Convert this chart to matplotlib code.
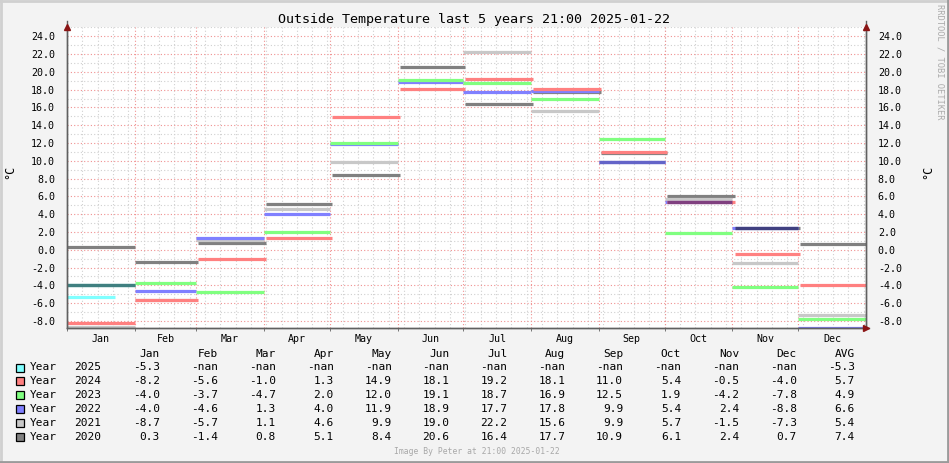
import numpy as np
import pandas as pd
import matplotlib
matplotlib.use('Agg')
import matplotlib.pyplot as plt
from matplotlib.lines import Line2D
from matplotlib.patches import Rectangle

# data
months = ['Jan', 'Feb', 'Mar', 'Apr', 'May', 'Jun', 'Jul', 'Aug', 'Sep', 'Oct', 'Nov', 'Dec']
years = [2025, 2024, 2023, 2022, 2021, 2020]
nan = np.nan
t2025 = [-5.3, nan, nan, nan, nan, nan, nan, nan, nan, nan, nan, nan]
t2024 = [-8.2, -5.6, -1.0, 1.3, 14.9, 18.1, 19.2, 18.1, 11.0, 5.4, -0.5, -4.0]
t2023 = [-4.0, -3.7, -4.7, 2.0, 12.0, 19.1, 18.7, 16.9, 12.5, 1.9, -4.2, -7.8]
t2022 = [-4.0, -4.6, 1.3, 4.0, 11.9, 18.9, 17.7, 17.8, 9.9, 5.4, 2.4, -8.8]
t2021 = [-8.7, -5.7, 1.1, 4.6, 9.9, 19.0, 22.2, 15.6, 9.9, 5.7, -1.5, -7.3]
t2020 = [0.3, -1.4, 0.8, 5.1, 8.4, 20.6, 16.4, 17.7, 10.9, 6.1, 2.4, 0.7]
averages = [-5.3, 5.7, 4.9, 6.6, 5.4, 7.4]
series = [t2025, t2024, t2023, t2022, t2021, t2020]
colors = ['#80FFFF', '#FF8080', '#80FF80', '#8080FF', '#C8C8C8', '#808080']
now = pd.Timestamp('2025-01-22 21:00')

mono = 'DejaVu Sans Mono'
W, H = 949, 463
fig = plt.figure(figsize=(W / 100, H / 100), dpi=100, facecolor='#F3F3F3')
ax = fig.add_axes([67 / W, (H - 328) / H, 799 / W, 301 / H])
ax.set_facecolor('white')
ax.set_xlim(0, 365)
ax.set_ylim(-8.8, 25.05)


def month_span(year, m):
    start = pd.Timestamp(year, m + 1, 1)
    s = start.dayofyear - 1
    e = s + start.days_in_month
    if year == now.year:
        e = min(e, now.dayofyear - 1 + now.hour / 24)
    return s, e


# grid
ref = 2025
bounds = [month_span(ref, m)[0] for m in range(12)]
for d in np.arange(7, 365, 7):
    ax.axvline(d, color='#D0D0D0', lw=0.8, ls=(0, (1, 2)), zorder=0)
for d in bounds[1:]:
    ax.axvline(d, color='#F09090', lw=0.8, ls=(0, (1, 2)), zorder=0.5)
for v in range(-8, 26):
    if v % 2 == 0:
        ax.axhline(v, color='#F09090', lw=0.8, ls=(0, (1, 2)), zorder=0.5)
    else:
        ax.axhline(v, color='#D0D0D0', lw=0.8, ls=(0, (1, 2)), zorder=0)


def rgb(c):
    return np.array(matplotlib.colors.to_rgb(c))


# lines, drawn oldest first
for yr, vals, col in reversed(list(zip(years, series, colors))):
    for m, v in enumerate(vals):
        if np.isnan(v):
            continue
        s, e = month_span(yr, m)
        ax.plot([s, e], [v, v], color=col, lw=2.3, solid_capstyle='butt', zorder=2)

# lines with the same value look multiplied where they overlap
for m in range(12):
    for i in range(len(years)):
        for j in range(i + 1, len(years)):
            a, b = series[i][m], series[j][m]
            if np.isnan(a) or np.isnan(b) or abs(a - b) > 0.05:
                continue
            s1, e1 = month_span(years[i], m)
            s2, e2 = month_span(years[j], m)
            c = rgb(colors[i]) * rgb(colors[j])
            ax.plot([max(s1, s2), min(e1, e2)], [a, a], color=c, lw=2.3,
                    solid_capstyle='butt', zorder=3)

# axes styling
ax.spines['top'].set_visible(False)
for side in ['left', 'right', 'bottom']:
    ax.spines[side].set_color('#606060')
    ax.spines[side].set_linewidth(1)
ax.set_yticks(np.arange(-8, 25, 2))
ax.set_yticklabels(['%.1f' % v for v in np.arange(-8, 25, 2)], fontsize=7.2, family=mono)
ax.tick_params(axis='y', left=False, right=False, labelright=True, pad=5)
mids = [(bounds[i] + (bounds[i + 1] if i < 11 else 365)) / 2 for i in range(12)]
ax.set_xticks(mids)
ax.set_xticklabels(months, fontsize=7.2, family=mono)
ax.set_xticks(bounds, minor=True)
ax.tick_params(axis='x', which='major', length=0, pad=4)
ax.tick_params(axis='x', which='minor', length=2, color='#606060')

arrow = '#8B1515'
ax.plot([0], [1.0], marker='^', ms=4.5, color=arrow, transform=ax.transAxes, clip_on=False, zorder=5)
ax.plot([1], [1.0], marker='^', ms=4.5, color=arrow, transform=ax.transAxes, clip_on=False, zorder=5)
ax.plot([1.0], [0], marker='>', ms=4.5, color=arrow, transform=ax.transAxes, clip_on=False, zorder=5)
ax.plot([0, 1.004], [0, 0], color='#606060', lw=1, transform=ax.transAxes, clip_on=False, zorder=4)
ax.plot([0, 0], [0, 1.02], color='#606060', lw=1, transform=ax.transAxes, clip_on=False, zorder=4)
ax.plot([1, 1], [0, 1.02], color='#606060', lw=1, transform=ax.transAxes, clip_on=False, zorder=4)

# texts
fig.text(474 / W, 1 - 19 / H, 'Outside Temperature last 5 years 21:00 2025-01-22',
         ha='center', va='center', fontsize=9.6, family=mono)
fig.text(10 / W, 1 - 172 / H, '°C', rotation=90, ha='center', va='center', fontsize=8.5, family=mono)
fig.text(928 / W, 1 - 172 / H, '°C', rotation=90, ha='center', va='center', fontsize=8.5, family=mono)
fig.text(940 / W, 1 - 4 / H, 'RRDTOOL / TOBI OETIKER', rotation=270, ha='center', va='top',
         fontsize=6.3, family=mono, color='#ABABAB')
fig.text(477 / W, 1 - 452 / H, 'Image By Peter at 21:00 2025-01-22', ha='center', va='center',
         fontsize=5.8, family=mono, color='#A8A8A8')

# legend table
col_right = [160 + 57.9 * i for i in range(13)]
header_y = 354
for i, lab in enumerate(months + ['AVG']):
    fig.text(col_right[i] / W, 1 - header_y / H, lab, ha='right', va='center', fontsize=8, family=mono)
for r, (yr, vals, col, avg) in enumerate(zip(years, series, colors, averages)):
    y = 367.5 + 13.9 * r
    fig.patches.append(Rectangle((16 / W, 1 - (y + 4) / H), 8 / W, 8 / H, transform=fig.transFigure,
                                 facecolor=col, edgecolor='black', lw=0.9))
    fig.text(30 / W, 1 - y / H, 'Year', ha='left', va='center', fontsize=8, family=mono)
    fig.text(74 / W, 1 - y / H, str(yr), ha='left', va='center', fontsize=8, family=mono)
    for i, v in enumerate(list(vals) + [avg]):
        txt = '-nan' if np.isnan(v) else '%.1f' % v
        fig.text(col_right[i] / W, 1 - y / H, txt, ha='right', va='center', fontsize=8, family=mono)

# frame
fig.add_artist(Line2D([0, 1], [1 - 1 / H, 1 - 1 / H], color='#D0D0D0', lw=2, transform=fig.transFigure))
fig.add_artist(Line2D([1 / W, 1 / W], [0, 1], color='#D0D0D0', lw=2, transform=fig.transFigure))
fig.add_artist(Line2D([0, 1], [1 / H, 1 / H], color='#9A9A9A', lw=2, transform=fig.transFigure))
fig.add_artist(Line2D([1 - 1 / W, 1 - 1 / W], [0, 1], color='#9A9A9A', lw=2, transform=fig.transFigure))

fig.savefig('out.png', dpi=100, facecolor=fig.get_facecolor())
